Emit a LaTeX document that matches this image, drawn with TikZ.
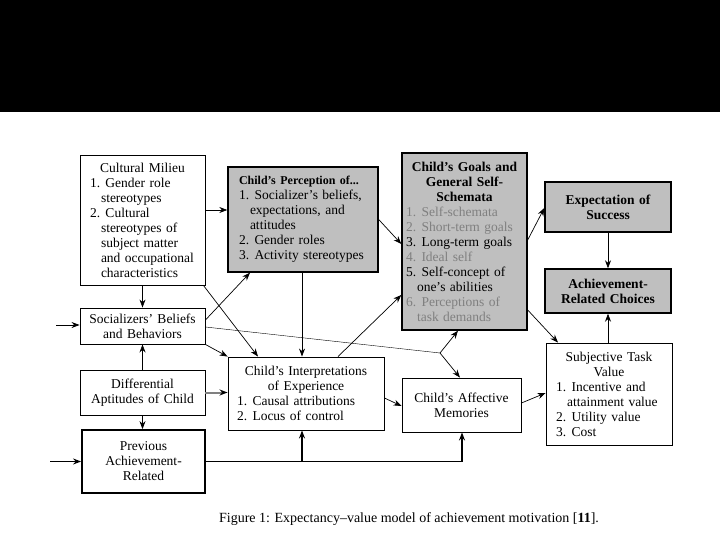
\documentclass[tikz,border=0pt]{standalone}
\usepackage{fontspec}
\setmainfont{Liberation Serif}
\usetikzlibrary{arrows.meta}
\definecolor{boxgray}{gray}{0.75}
\definecolor{dimtext}{gray}{0.5}
\newcommand{\lnum}[1]{\makebox[11pt][l]{#1.}}
\newcommand{\ctd}{\hspace*{11pt}}
\tikzset{
  box/.style={draw, line width=0.9pt, inner sep=0pt, align=left},
  shaded/.style={box, fill=boxgray, line width=1.4pt},
  arr/.style={-{Stealth[length=8pt,width=6pt]}, line width=0.7pt},
  heavy/.style={arr, line width=1.8pt}
}
\begin{document}
\begin{tikzpicture}[x=1pt, y=-1pt, font=\fontsize{13.5}{15}\selectfont]
            \useasboundingbox (0,0) rectangle (720,540);
            \fill[black] (0,0) rectangle (720,112);

            % Left column
            \node(milieu) [box, minimum width=125pt, minimum height=130pt, text width=105pt] at (142.5,220)
            {{\centering Cultural Milieu\par}
            \lnum1 Gender role\\\ctd stereotypes\\\lnum2 Cultural\\\ctd stereotypes of\\\ctd subject matter\\\ctd and occupational\\\ctd characteristics};
            \node(socializers) [box, minimum width=125pt, minimum height=36pt, text width=119pt] at (142.5,326)
            {{\centering Socializers' Beliefs\\and Behaviors\par}};
            \node(aptitudes) [box, minimum width=125pt, minimum height=45pt, text width=119pt] at (142.5,392.5)
            {{\centering Differential\\Aptitudes of Child\par}};
            \node(previous) [box, line width=1.8pt, minimum width=123pt, minimum height=63pt, text width=113pt] at (143.5,461.5)
            {{\centering Previous\\Achievement-\\Related\par}};

            % Middle column
            \node(perception) [shaded, minimum width=150pt, minimum height=105pt, text width=128pt] at (303,219.5)
            {{\fontsize{12}{15}\selectfont\bfseries Child's Perception of...\par}
            \lnum1 Socializer's beliefs,\\\ctd expectations, and\\\ctd attitudes\\\lnum2 Gender roles\\\lnum3 Activity stereotypes};
            \node(interpretations) [box, minimum width=156pt, minimum height=73pt, text width=138pt] at (306,393.5)
            {{\centering Child's Interpretations\\of Experience\par}
            \lnum1 Causal attributions\\\lnum2 Locus of control};
            \node(goals) [shaded, minimum width=125pt, minimum height=177pt, text width=117pt] at (464.5,241.5)
            {{\centering\bfseries Child's Goals and\\General Self-\\Schemata\par}
            \textcolor{dimtext}{\lnum1 Self-schemata}\\
            \textcolor{dimtext}{\lnum2 Short-term goals}\\
            \lnum3 Long-term goals\\
            \textcolor{dimtext}{\lnum4 Ideal self}\\
            \lnum5 Self-concept of\\\ctd one's abilities\\
            \textcolor{dimtext}{\lnum6 Perceptions of\\\ctd task demands}};
            \node(memories) [box, minimum width=119pt, minimum height=54pt, text width=109pt] at (461.5,405)
            {{\centering Child's Affective\\Memories\par}};

            % Right column
            \node(expectation) [shaded, minimum width=126pt, minimum height=50pt, text width=116pt] at (608,207)
            {{\centering\bfseries Expectation of\\Success\par}};
            \node(choices) [shaded, minimum width=126pt, minimum height=44pt, text width=116pt] at (608,291)
            {{\centering\bfseries Achievement-\\Related Choices\par}};
            \node(value) [box, minimum width=126pt, minimum height=102pt, text width=106pt] at (609,394)
            {{\centering Subjective Task\\Value\par}
            \lnum1 Incentive and\\\ctd attainment value\\\lnum2 Utility value\\\lnum3 Cost};

            \node(caption) [font=\fontsize{14}{16}\selectfont] at (409,519) {Figure 1: Expectancy--value model of achievement motivation [\textbf{11}].};

            \coordinate(fork) at (440,353);
            \coordinate(backtop) at (56,325);
            \coordinate(backbottom) at (50,461.5);

            % Draw Lines
            \draw[arr] ([yshift=10pt]milieu.east) -- ([yshift=10pt]milieu.east -| perception.west);
            \draw[arr] (milieu.south) -- (socializers.north);
            \draw[arr] ([xshift=-2pt]milieu.south east) -- ([xshift=-48pt]interpretations.north);

            \draw[arr] ([yshift=6pt]socializers.east) -- ([xshift=-53pt]perception.south);
            \draw[arr] (socializers.south east) -- (interpretations.north west);
            \draw ([yshift=-1pt]socializers.east) -- (fork);
            \draw[arr] (fork) -- ([xshift=-6.5pt]goals.south);
            \draw[arr] (fork) -- ([xshift=-1.5pt]memories.north);

            \draw[arr] (aptitudes.north) -- (socializers.south);
            \draw[arr, gray, line width=2pt, -{Stealth[length=8pt,width=6pt,black]}] (aptitudes.east) -- (aptitudes.east -| interpretations.west);
            \draw[arr] (aptitudes.south) -- (aptitudes.south |- previous.north);

            \draw[heavy] (previous.east) -| ([xshift=-4pt]interpretations.south);
            \draw[heavy] (previous.east) -| ([xshift=0.5pt]memories.south);

            \draw[arr] (backtop) -- (backtop -| socializers.west);
            \draw[heavy] (backbottom) -- (previous.west);

            \draw[arr] (perception.east) -- ([yshift=-2.5pt]goals.west);
            \draw[arr] ([xshift=-1pt]perception.south) -- ([xshift=-1pt]perception.south |- interpretations.north);
            \draw[arr] ([xshift=32pt]interpretations.north) -- ([yshift=-53.5pt]goals.west);
            \draw[arr] ([yshift=-4.5pt]interpretations.east) -- ([yshift=-1pt]memories.west);

            \draw[arr] ([yshift=1.5pt]goals.east) -- ([yshift=-1pt]expectation.west);
            \draw[arr] ([yshift=-68.5pt]goals.east) -- ([xshift=-51pt]value.north);
            \draw[arr] (expectation.south) -- (choices.north);
            \draw[arr] ([xshift=-1pt]value.north) -- (choices.south);
            \draw[arr] ([yshift=2pt]memories.east) -- ([yshift=1pt]value.west);

        \end{tikzpicture}
\end{document}
